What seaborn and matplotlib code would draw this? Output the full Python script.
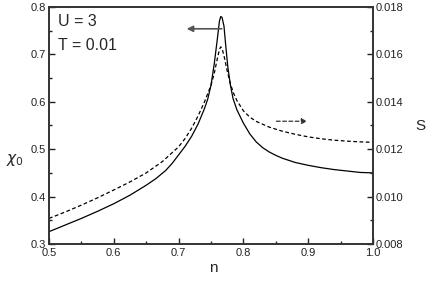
import numpy as np
import pandas as pd
import matplotlib
matplotlib.use("Agg")
import matplotlib.pyplot as plt
from matplotlib.ticker import MultipleLocator, FormatStrFormatter
import seaborn as sns

# Data
n_chi = [0.50, 0.525, 0.55, 0.575, 0.60, 0.625, 0.65, 0.665, 0.68, 0.69, 0.70, 0.71,
         0.72, 0.73, 0.74, 0.745, 0.75, 0.755, 0.76, 0.763, 0.765, 0.767, 0.770,
         0.773, 0.776, 0.780, 0.784, 0.79, 0.80, 0.81, 0.82, 0.83, 0.84, 0.85, 0.86,
         0.88, 0.90, 0.92, 0.94, 0.96, 0.98, 1.00]
chi0 = [0.326, 0.340, 0.354, 0.369, 0.385, 0.403, 0.424, 0.438, 0.455, 0.470, 0.488, 0.506,
        0.527, 0.553, 0.586, 0.606, 0.635, 0.680, 0.735, 0.770, 0.780, 0.778, 0.760,
        0.715, 0.673, 0.635, 0.607, 0.583, 0.555, 0.532, 0.515, 0.503, 0.494, 0.487, 0.481,
        0.472, 0.466, 0.461, 0.457, 0.454, 0.451, 0.450]

n_s = [0.50, 0.525, 0.55, 0.575, 0.60, 0.625, 0.65, 0.675, 0.70, 0.71, 0.72, 0.73,
       0.74, 0.75, 0.755, 0.76, 0.763, 0.765, 0.767, 0.77, 0.775, 0.78, 0.785, 0.79,
       0.80, 0.81, 0.82, 0.84, 0.86, 0.88, 0.90, 0.92, 0.94, 0.96, 0.98, 1.00]
S = [0.00908, 0.00935, 0.00964, 0.00995, 0.01028, 0.01062, 0.01100, 0.01148, 0.01210,
     0.01245, 0.01288, 0.01340, 0.01400, 0.01470, 0.01520, 0.01585, 0.01620, 0.01632,
     0.01625, 0.01595, 0.01530, 0.01475, 0.01435, 0.01405, 0.01362, 0.01335, 0.01317,
     0.01293, 0.01276, 0.01263, 0.01252, 0.01244, 0.01238, 0.01234, 0.01231, 0.01229]

x_ticks = [0.5, 0.6, 0.7, 0.8, 0.9, 1.0]
chi_ticks = [0.3, 0.4, 0.5, 0.6, 0.7, 0.8]
s_ticks = [0.008, 0.010, 0.012, 0.014, 0.016, 0.018]

sns.set_style("ticks")
plt.rcParams['font.family'] = ['Liberation Sans', 'DejaVu Sans']
plt.rcParams['mathtext.fontset'] = 'dejavusans'

df_chi = pd.DataFrame({"n": n_chi, "chi": chi0})
df_s = pd.DataFrame({"n": n_s, "S": S})

fig = plt.figure(figsize=(4.36, 2.84), dpi=100)
ax = fig.add_axes([49/436, 1-244/284, (373-49)/436, (244-7)/284])
ax2 = ax.twinx()

sns.lineplot(data=df_chi, x="n", y="chi", ax=ax, color="black", lw=0.9)
sns.lineplot(data=df_s, x="n", y="S", ax=ax2, color="black", lw=0.9, linestyle=(0, (3, 2)))

ax.set_xlim(0.5, 1.0)
ax.set_ylim(0.3, 0.8)
ax2.set_ylim(0.008, 0.018)

ax.set_xticks(x_ticks)
ax.set_yticks(chi_ticks)
ax2.set_yticks(s_ticks)
ax.xaxis.set_minor_locator(MultipleLocator(0.05))
ax.yaxis.set_minor_locator(MultipleLocator(0.05))
ax2.yaxis.set_minor_locator(MultipleLocator(0.001))
ax.xaxis.set_major_formatter(FormatStrFormatter('%.1f'))
ax.yaxis.set_major_formatter(FormatStrFormatter('%.1f'))
ax2.yaxis.set_major_formatter(FormatStrFormatter('%.3f'))

for a in (ax, ax2):
    a.tick_params(which='major', direction='in', length=4, width=1, labelsize=8, pad=2, colors='#222222')
    a.tick_params(which='minor', direction='in', length=2.5, width=1, colors='#222222')
    for sp in a.spines.values():
        sp.set_visible(True)
        sp.set_linewidth(1.2)
        sp.set_color('#333333')
ax.tick_params(axis='x', pad=3)

ax.set_xlabel("")
ax.set_ylabel("")
ax2.set_ylabel("")
fig.text(213/436, 1-268/284, "n", fontsize=11, ha='center', va='center')
fig.text(15/436, 1-160/284, r"$\chi_0$", fontsize=11, ha='center', va='center')
fig.text(420/436, 1-126/284, "S", fontsize=11, ha='center', va='center')

ax.text(58/436, 1-22/284, "U = 3", transform=fig.transFigure, fontsize=11.5, ha='left', va='center')
ax.text(58/436, 1-45/284, "T = 0.01", transform=fig.transFigure, fontsize=11.5, ha='left', va='center')

# arrows
ax.annotate("", xy=(0.7125, 0.754), xytext=(0.7665, 0.754),
            arrowprops=dict(arrowstyle="-|>", color="#555555", lw=1.2,
                            mutation_scale=9, shrinkA=0, shrinkB=0))
ax.annotate("", xy=(0.8985, 0.559), xytext=(0.851, 0.559),
            arrowprops=dict(arrowstyle="-|>", color="#333333", lw=0.9, linestyle=(0, (3, 2)),
                            mutation_scale=8, shrinkA=0, shrinkB=0))

fig.savefig("out.png", dpi=100)
